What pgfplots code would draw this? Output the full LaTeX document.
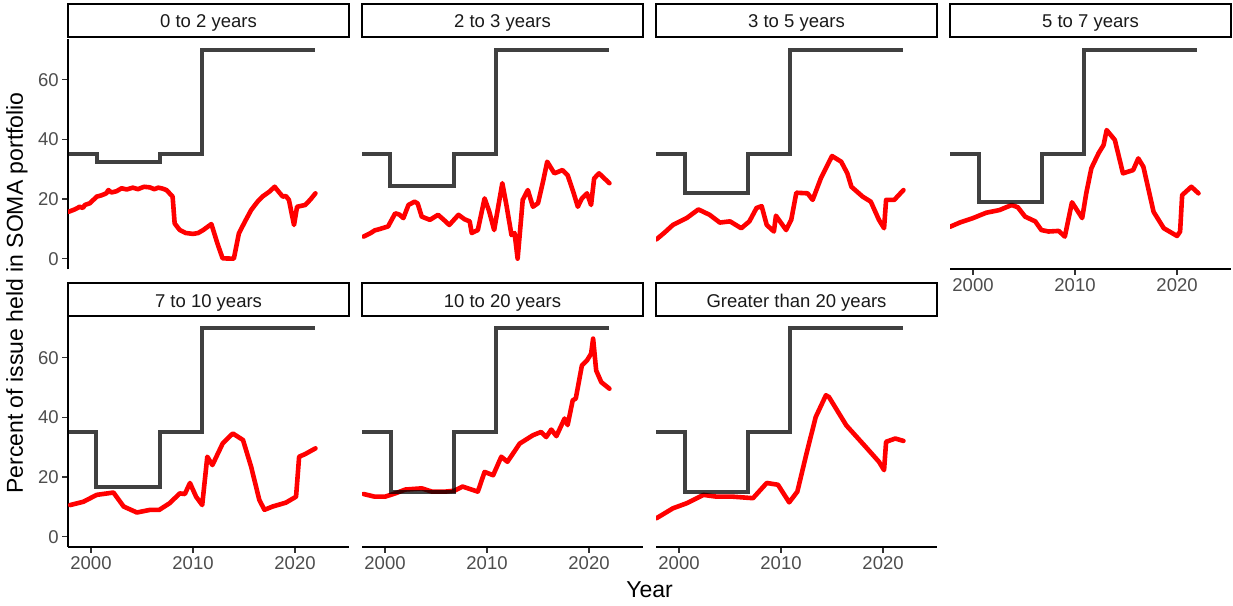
\documentclass[border=0pt]{standalone}
\usepackage{fontspec}
\setmainfont{Liberation Sans}
\setsansfont{Liberation Sans}
\usepackage{pgfplots}
\pgfplotsset{compat=1.18}
\definecolor{gray30}{HTML}{4D4D4D}
\definecolor{gray20}{HTML}{333333}
\definecolor{gray10}{HTML}{1A1A1A}
\newcommand{\ticksize}{\fontsize{18.5}{20}\selectfont}
\newcommand{\titlesize}{\fontsize{23}{26}\selectfont}
\pgfplotsset{
  panel/.style={scale only axis, width=281pt, height=229.7pt,
    xmin=1997.745, xmax=2025.29, ymin=-3.5, ymax=73.5,
    xtick={2000,2010,2020}, ytick={0,20,40,60},
    tick align=outside, major tick length=5.8pt,
    tick style={color=gray20, line width=1.4pt},
    axis line style={-, line width=1.4pt, black},
    ticklabel style={font=\ticksize, color=gray30},
    /pgf/number format/1000 sep={},
    /pgf/number format/assume math mode=true,
    anchor=south west},
  redl/.style={color=red, line width=4.6pt, line join=round, line cap=round, mark=none},
  blkl/.style={color=black, opacity=0.75, line width=3.8pt, const plot, mark=none},
}
\begin{document}
\begin{tikzpicture}[x=1pt,y=1pt]
\path[use as bounding box] (0,0) rectangle (1233,-605);

% Panel 1: 0 to 2 years
\begin{axis}[panel, at={(68pt,-269.1pt)}, axis y line*=left, hide x axis]
\addplot[redl] coordinates {(1997.79,15.7) (1998.4,16.5) (1998.9,17.4) (1999.2,17.0) (1999.4,18.0) (1999.9,18.6) (2000.56,20.8) (2001.0,21.2) (2001.5,21.9) (2001.7,23.0) (2002.0,22.2) (2002.5,22.6) (2003.0,23.6) (2003.5,23.2) (2004.1,23.8) (2004.6,23.3) (2005.2,24.1) (2005.76,23.9) (2006.2,23.3) (2006.6,23.8) (2007.0,23.5) (2007.4,23.0) (2008.0,20.8) (2008.2,11.8) (2008.7,9.6) (2009.3,8.6) (2010.0,8.3) (2010.5,8.6) (2011.0,9.6) (2011.8,11.6) (2012.4,5.0) (2012.9,0.1) (2014.0,0.0) (2014.5,8.5) (2015.1,12.5) (2015.7,16.3) (2016.3,19.0) (2016.8,20.8) (2017.5,22.5) (2018.0,24.1) (2018.5,22.0) (2018.8,20.8) (2019.1,21.0) (2019.4,19.7) (2019.9,11.3) (2020.2,17.4) (2021.0,18.0) (2021.5,19.8) (2022.0,21.9)};
\addplot[blkl] coordinates {(1997.745,35) (2000.55,32.5) (2006.8,35) (2010.85,70) (2022.0,70)};
\end{axis}

% Panel 2: 2 to 3 years
\begin{axis}[panel, at={(362pt,-269.1pt)}, hide axis]
\addplot[redl] coordinates {(1997.9,7.4) (1998.6,8.6) (1999.0,9.5) (1999.35,9.8) (2000.3,10.8) (2001.0,15.2) (2001.4,14.8) (2001.8,13.6) (2002.3,18.0) (2002.9,19.1) (2003.2,18.5) (2003.6,14.1) (2004.4,13.0) (2005.2,14.7) (2005.8,12.9) (2006.3,11.3) (2007.2,14.7) (2007.8,13.2) (2008.3,12.5) (2008.5,8.6) (2009.1,9.6) (2009.76,20.2) (2010.2,16.0) (2010.7,9.6) (2011.5,25.3) (2011.9,18.0) (2012.4,7.9) (2012.7,8.6) (2013.0,0.0) (2013.5,19.7) (2014.0,23.0) (2014.5,17.4) (2015.0,18.6) (2015.5,26.0) (2015.9,32.5) (2016.6,28.6) (2017.4,29.7) (2017.9,28.0) (2018.5,21.9) (2018.9,17.4) (2019.3,20.2) (2019.8,21.9) (2020.2,18.0) (2020.5,26.9) (2020.98,28.6) (2021.5,26.9) (2022.0,25.3)};
\addplot[blkl] coordinates {(1997.745,35) (2000.5,24.4) (2006.8,35) (2010.85,70) (2022.0,70)};
\end{axis}

% Panel 3: 3 to 5 years
\begin{axis}[panel, at={(656pt,-269.1pt)}, hide axis]
\addplot[redl] coordinates {(1997.8,6.5) (1998.6,8.8) (1999.4,11.3) (2000.75,13.6) (2001.9,16.5) (2003.0,14.7) (2004.0,12.1) (2005.0,12.5) (2006.1,10.2) (2006.9,12.5) (2007.6,17.0) (2008.1,17.6) (2008.6,11.3) (2009.3,9.1) (2009.5,14.4) (2010.5,9.6) (2011.0,13.0) (2011.5,22.1) (2012.6,21.9) (2013.1,19.7) (2013.9,26.9) (2015.0,34.4) (2015.9,32.5) (2016.5,28.6) (2016.9,24.1) (2018.0,20.8) (2018.8,19.1) (2019.6,13.0) (2020.1,10.2) (2020.3,19.7) (2021.1,19.7) (2022.0,23.0)};
\addplot[blkl] coordinates {(1997.745,35) (2000.59,21.9) (2006.8,35) (2010.85,70) (2022.0,70)};
\end{axis}

% Panel 4: 5 to 7 years
\begin{axis}[panel, at={(950pt,-269.1pt)}, axis x line*=bottom, hide y axis]
\addplot[redl] coordinates {(1997.75,10.7) (1998.7,12.1) (2000.0,13.6) (2001.3,15.4) (2002.6,16.3) (2003.8,18.0) (2004.4,17.2) (2005.1,14.1) (2006.1,12.5) (2006.7,9.6) (2007.4,9.1) (2008.4,9.3) (2009.0,7.4) (2009.7,18.9) (2010.7,13.6) (2011.1,21.9) (2011.6,30.3) (2012.3,35.3) (2012.8,38.1) (2013.1,43.1) (2013.9,39.8) (2014.7,28.6) (2015.7,29.7) (2016.2,33.6) (2016.7,30.8) (2017.7,15.7) (2018.7,10.2) (2020.0,7.6) (2020.3,9.1) (2020.5,21.3) (2021.4,24.1) (2022.1,21.9)};
\addplot[blkl] coordinates {(1997.745,35) (2000.6,18.9) (2006.8,35) (2010.85,70) (2022.0,70)};
\end{axis}

% Panel 5: 7 to 10 years
\begin{axis}[panel, at={(68pt,-547.1pt)}, axis x line*=bottom, axis y line*=left]
\addplot[redl] coordinates {(1997.95,10.6) (1999.25,11.7) (2000.55,14.0) (2002.2,14.8) (2003.2,10.1) (2004.5,8.1) (2005.8,9.0) (2006.7,9.0) (2007.7,11.2) (2008.7,14.5) (2009.2,14.3) (2009.7,18.0) (2010.3,13.4) (2010.9,10.6) (2011.4,26.8) (2011.9,24.0) (2012.9,31.2) (2013.9,34.6) (2014.9,32.4) (2015.7,23.4) (2016.5,12.3) (2017.0,9.0) (2017.8,10.1) (2019.1,11.4) (2020.1,13.4) (2020.4,26.8) (2021.0,27.7) (2022.0,29.6)};
\addplot[blkl] coordinates {(1997.745,35) (2000.5,16.7) (2006.8,35) (2010.85,70) (2022.0,70)};
\end{axis}

% Panel 6: 10 to 20 years
\begin{axis}[panel, at={(362pt,-547.1pt)}, axis x line*=bottom, hide y axis]
\addplot[redl] coordinates {(1997.9,14.3) (1999.0,13.4) (2000.0,13.4) (2001.0,14.5) (2002.0,15.8) (2003.6,16.2) (2004.6,15.1) (2005.9,15.1) (2006.8,15.4) (2007.6,16.8) (2009.1,15.1) (2009.76,21.7) (2010.6,20.6) (2011.4,26.8) (2012.0,25.1) (2013.2,31.2) (2014.5,34.0) (2015.3,35.1) (2015.8,33.4) (2016.3,35.9) (2016.8,33.7) (2017.6,39.6) (2017.9,37.4) (2018.4,45.7) (2018.7,46.3) (2019.3,57.4) (2019.8,59.1) (2020.2,61.3) (2020.4,66.4) (2020.7,55.7) (2021.2,51.8) (2022.0,49.6)};
\addplot[blkl] coordinates {(1997.745,35) (2000.6,15.0) (2006.8,35) (2010.85,70) (2022.0,70)};
\end{axis}

% Panel 7: Greater than 20 years
\begin{axis}[panel, at={(656pt,-547.1pt)}, axis x line*=bottom, hide y axis]
\addplot[redl] coordinates {(1997.8,6.2) (1999.4,9.5) (2000.75,11.2) (2002.4,14.0) (2003.7,13.4) (2005.3,13.4) (2007.25,12.9) (2008.6,18.0) (2009.7,17.4) (2010.8,11.5) (2011.6,15.1) (2012.5,27.9) (2013.4,40.1) (2014.4,47.4) (2014.7,46.8) (2016.4,37.3) (2018.3,30.1) (2019.6,25.1) (2020.1,22.3) (2020.3,31.8) (2021.2,32.9) (2022.0,32.1)};
\addplot[blkl] coordinates {(1997.745,35) (2000.6,15.0) (2006.8,35) (2010.85,70) (2022.0,70)};
\end{axis}

% Strips
\foreach \L/\T/\lab in {68/3.8/{0 to 2 years}, 362/3.8/{2 to 3 years}, 656/3.8/{3 to 5 years}, 950/3.8/{5 to 7 years}, 68/283.3/{7 to 10 years}, 362/283.3/{10 to 20 years}, 656/283.3/{Greater than 20 years}}{
  \draw[line width=1.8pt, black, fill=white] (\L,-\T) rectangle ++(281,-33);
  \node[anchor=base, text=gray10, font=\ticksize, inner sep=0pt] at (\L+140.5,-\T-23.8) {\lab};
}

% Axis titles
\node[anchor=base, font=\titlesize, text=black, inner sep=0pt] at (649.5,-597.5) {Year};
\node[rotate=90, font=\titlesize, text=black, inner sep=0pt] at (17,-293) {Percent of issue held in SOMA portfolio};
\end{tikzpicture}
\end{document}
